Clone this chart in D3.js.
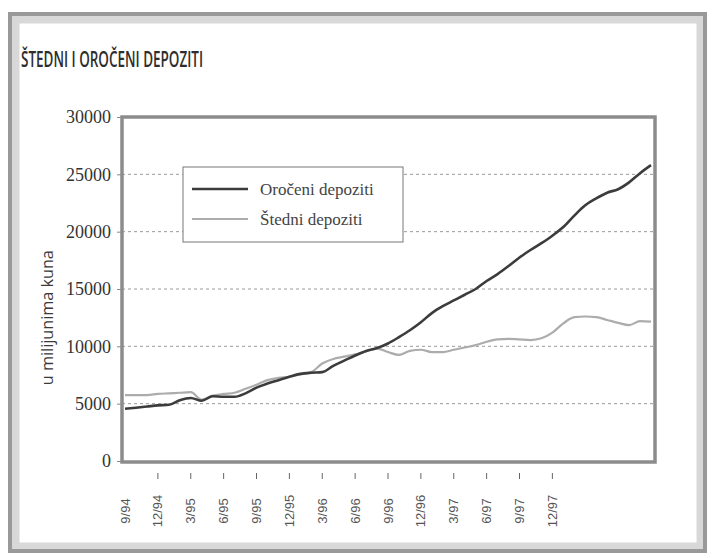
<!DOCTYPE html>
<html>
<head>
<meta charset="utf-8">
<script src="https://cdn.jsdelivr.net/npm/d3@7"></script>
<style>
  body { margin: 0; background: #fff; }
  svg { display: block; }
</style>
</head>
<body>
<div id="chart"></div>
<script>
// mjesečni podaci, 9/94 - 9/98 (u milijunima kuna)
const months = d3.range(49);
const oroceni = [4550, 4650, 4750, 4850, 4900, 5300, 5500, 5250, 5650, 5600, 5600, 5900,
  6400, 6750, 7050, 7350, 7600, 7700, 7750, 8300, 8750, 9200, 9600, 9850,
  10250, 10800, 11400, 12100, 12900, 13500, 14000, 14500, 15000, 15700, 16300, 17000,
  17750, 18400, 19000, 19650, 20400, 21400, 22300, 22900, 23400, 23700, 24300, 25100, 25800];
const stedni = [5750, 5750, 5750, 5850, 5900, 5950, 6000, 5350, 5700, 5850, 5950, 6300,
  6650, 7050, 7250, 7350, 7550, 7750, 8500, 8900, 9100, 9300, 9550, 9800,
  9500, 9250, 9600, 9700, 9500, 9500, 9700, 9900, 10100, 10400, 10600, 10650,
  10600, 10550, 10700, 11200, 12000, 12550, 12600, 12550, 12300, 12050, 11850, 12200, 12150];
const tickLabels = ['9/94', '12/94', '3/95', '6/95', '9/95', '12/95', '3/96', '6/96',
  '9/96', '12/96', '3/97', '6/97', '9/97', '12/97'];
const yTicks = [0, 5000, 10000, 15000, 20000, 25000, 30000];

const width = 715, height = 558;
const sansFont = '"Open Sans", "DejaVu Sans Condensed", sans-serif';
const serifFont = '"Liberation Serif", "DejaVu Serif", serif';

const svg = d3.select('#chart')
  .append('svg')
  .attr('width', width)
  .attr('height', height);

// okvir stranice
svg.append('rect')
  .attr('x', 15).attr('y', 19).attr('width', 686).attr('height', 528)
  .attr('fill', 'none').attr('stroke', '#d8d8d8').attr('stroke-width', 9);
svg.append('rect')
  .attr('x', 10).attr('y', 14).attr('width', 695).attr('height', 537)
  .attr('fill', 'none').attr('stroke', '#999').attr('stroke-width', 4);

svg.append('text')
  .attr('x', 21).attr('y', 67)
  .attr('textLength', 182).attr('lengthAdjust', 'spacingAndGlyphs')
  .style('font-family', sansFont)
  .style('font-size', '21px')
  .style('font-weight', 600)
  .attr('fill', '#2e2e2e')
  .text('ŠTEDNI I OROČENI DEPOZITI');

const x = d3.scaleLinear().domain([0, 48]).range([125, 651]);
const y = d3.scaleLinear().domain([0, 30000]).range([461, 117]);

// mreža
svg.append('g')
  .selectAll('line')
  .data(yTicks.filter(d => d > 0 && d < 30000))
  .join('line')
  .attr('x1', 122).attr('x2', 655)
  .attr('y1', d => y(d)).attr('y2', d => y(d))
  .attr('stroke', '#9a9a9a')
  .attr('stroke-width', 1)
  .attr('stroke-dasharray', '3,3');

// y os
const yAxis = svg.append('g')
  .attr('transform', 'translate(122,0)')
  .call(d3.axisLeft(y).tickValues(yTicks).tickSize(5).tickPadding(6).tickFormat(d3.format('d')))
  .attr('font-family', serifFont)
  .attr('font-size', 18);
yAxis.select('.domain').remove();
yAxis.selectAll('line').attr('stroke', '#888');
yAxis.selectAll('text').attr('fill', '#333');

svg.append('text')
  .attr('transform', `translate(53,${y(12500)}) rotate(-90)`)
  .attr('text-anchor', 'middle')
  .attr('textLength', 135).attr('lengthAdjust', 'spacingAndGlyphs')
  .style('font-family', sansFont)
  .style('font-size', '17px')
  .attr('fill', '#3a3a3a')
  .text('u milijunima kuna');

// linije
const line = d3.line()
  .x((d, i) => x(months[i]))
  .y(d => y(d))
  .curve(d3.curveMonotoneX);

svg.append('path')
  .datum(stedni)
  .attr('d', line)
  .attr('fill', 'none')
  .attr('stroke', '#acacac')
  .attr('stroke-width', 2.2);

svg.append('path')
  .datum(oroceni)
  .attr('d', line)
  .attr('fill', 'none')
  .attr('stroke', '#3c3c3c')
  .attr('stroke-width', 2.6);

// okvir grafa
svg.append('rect')
  .attr('x', 122).attr('y', 117).attr('width', 533).attr('height', 345)
  .attr('fill', 'none').attr('stroke', '#8c8c8c').attr('stroke-width', 3.5);

// x os - oznake kvartala
const xLab = svg.append('g');
tickLabels.forEach((lab, k) => {
  const xp = x(months[k * 3]);
  if (k > 0) {
    xLab.append('line')
      .attr('x1', xp).attr('x2', xp)
      .attr('y1', 473).attr('y2', 479)
      .attr('stroke', '#666').attr('stroke-width', 1);
  }
  xLab.append('text')
    .attr('transform', `translate(${xp},511) rotate(-90)`)
    .attr('text-anchor', 'middle')
    .attr('dominant-baseline', 'central')
    .style('font-family', '"Liberation Sans", Arial, sans-serif')
    .style('font-size', '13px')
    .attr('fill', '#555')
    .text(lab);
});

// legenda
const legend = svg.append('g');
legend.append('rect')
  .attr('x', 183).attr('y', 167).attr('width', 220).attr('height', 75)
  .attr('fill', '#fff').attr('stroke', '#777').attr('stroke-width', 1);
const legendData = [
  {label: 'Oročeni depoziti', color: '#3c3c3c', w: 2.6},
  {label: 'Štedni depoziti', color: '#acacac', w: 2.2}
];
legend.selectAll('line.key')
  .data(legendData)
  .join('line')
  .attr('class', 'key')
  .attr('x1', 192).attr('x2', 248)
  .attr('y1', (d, i) => 189 + i * 30).attr('y2', (d, i) => 189 + i * 30)
  .attr('stroke', d => d.color)
  .attr('stroke-width', d => d.w);
legend.selectAll('text')
  .data(legendData)
  .join('text')
  .attr('x', 260)
  .attr('y', (d, i) => 195 + i * 30)
  .style('font-family', serifFont)
  .style('font-size', '17px')
  .attr('fill', '#444')
  .text(d => d.label);
</script>
</body>
</html>
